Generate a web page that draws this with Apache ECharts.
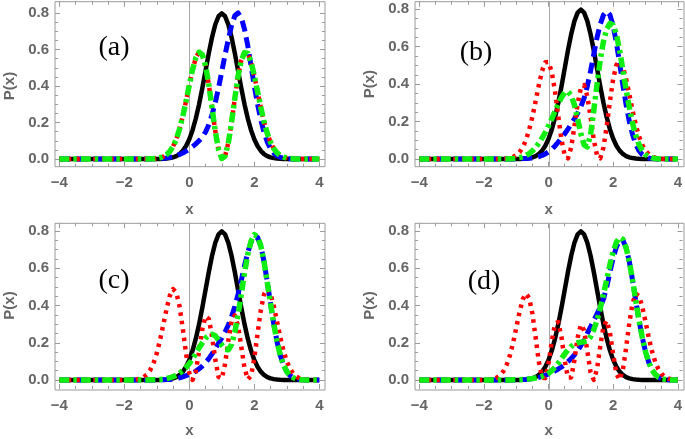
<!DOCTYPE html>
<html><head><meta charset="utf-8">
<script src="https://cdn.jsdelivr.net/npm/echarts@6/dist/echarts.min.js"></script>
<style>html,body{margin:0;padding:0;background:#fff}#c{width:685px;height:439px}</style>
</head><body><div id="c"></div>
<script>
// sample positions (x)
const X = [-4, -3,
  -2.0, -1.9, -1.8, -1.7, -1.6, -1.5, -1.4, -1.3,
  -1.2, -1.1, -1.0, -0.9, -0.8, -0.7, -0.6, -0.5, -0.4, -0.3,
  -0.2, -0.1, 0, 0.1, 0.2, 0.3, 0.4, 0.5, 0.6, 0.7,
  0.8, 0.9, 1.0, 1.1, 1.2, 1.3, 1.4, 1.5, 1.6, 1.7,
  1.8, 1.9, 2.0, 2.1, 2.2, 2.3, 2.4, 2.5, 2.6, 2.7,
  2.8, 2.9, 3.0, 3.1, 3.2, 3.3, 3.4, 3.5, 3.6, 3.7,
  3.8, 3.9, 4];

// black solid curve (same in every panel)
const blackP = [0,0,0,0,0,0,0,0,0,0,
  0,0.0001,0.0003,0.0006,0.0012,0.0025,0.0048,0.0089,0.0158,0.027,
  0.0448,0.0709,0.108,0.158,0.222,0.299,0.388,0.484,0.58,0.667,
  0.737,0.782,0.798,0.782,0.737,0.667,0.58,0.484,0.388,0.299,
  0.222,0.158,0.108,0.0709,0.0448,0.027,0.0158,0.0089,0.0048,0.0025,
  0.0012,0.0006,0.0003,0.0001,0,0,0,0,0,0,
  0,0,0];

// panel (a)
const blueA = [0,0,0,0,0,0,0,0,0,0,
  0,0.001,0.001,0.002,0.004,0.006,0.009,0.013,0.018,0.025,
  0.033,0.043,0.055,0.068,0.083,0.1,0.12,0.148,0.188,0.242,
  0.31,0.39,0.48,0.57,0.655,0.73,0.785,0.8,0.775,0.71,
  0.62,0.51,0.4,0.3,0.215,0.145,0.093,0.057,0.033,0.018,
  0.009,0.0045,0.002,0.001,0,0,0,0,0,0,
  0,0,0];
const redA = [0,0,0,0,0,0,0,0,0,0,
  0.0008,0.0017,0.0035,0.0069,0.0132,0.024,0.0417,0.0692,0.109,0.164,
  0.234,0.317,0.405,0.489,0.554,0.586,0.572,0.511,0.408,0.279,
  0.152,0.052,0.003,0.0155,0.087,0.201,0.332,0.453,0.541,0.583,
  0.578,0.531,0.457,0.37,0.283,0.204,0.14,0.0915,0.0568,0.0336,
  0.019,0.0102,0.0053,0.0026,0.0012,0.0005,0,0,0,0,
  0,0,0];
const greenA = [0,0,0,0,0,0,0,0,0,0,
  0.0008,0.0017,0.0035,0.0069,0.0132,0.024,0.0417,0.0692,0.109,0.164,
  0.234,0.317,0.405,0.489,0.554,0.586,0.572,0.511,0.408,0.279,
  0.152,0.052,0.003,0.0155,0.087,0.201,0.332,0.453,0.541,0.583,
  0.578,0.531,0.457,0.37,0.283,0.204,0.14,0.0915,0.0568,0.0336,
  0.019,0.0102,0.0053,0.0026,0.0012,0.0005,0,0,0,0,
  0,0,0];

// panel (b)
const blueB = [0,0,0,0,0,0,0,0,0,0,
  0,0,0.001,0.001,0.002,0.003,0.004,0.006,0.009,0.013,
  0.019,0.027,0.038,0.052,0.07,0.09,0.112,0.135,0.16,0.187,
  0.215,0.245,0.28,0.325,0.39,0.47,0.56,0.65,0.72,0.77,
  0.79,0.77,0.71,0.62,0.51,0.395,0.29,0.2,0.13,0.078,
  0.044,0.023,0.011,0.005,0.002,0.001,0,0,0,0,
  0,0,0];
const redB = [0,0,0,0,0,0,0,0.0005,0.0011,0.0025,
  0.0051,0.0103,0.0197,0.0358,0.0618,0.101,0.156,0.226,0.309,0.396,
  0.471,0.517,0.518,0.464,0.361,0.229,0.103,0.019,0.0035,0.062,
  0.173,0.295,0.38,0.395,0.335,0.223,0.102,0.019,0.0035,0.062,
  0.176,0.31,0.428,0.503,0.524,0.494,0.428,0.345,0.259,0.182,
  0.121,0.0755,0.0448,0.0252,0.0135,0.0068,0.0033,0.0015,0.0006,0.0002,
  0,0,0];
const greenB = [0,0,0,0,0,0,0,0,0,0,
  0.001,0.002,0.004,0.007,0.012,0.019,0.029,0.043,0.062,0.085,
  0.112,0.143,0.178,0.215,0.255,0.295,0.33,0.355,0.36,0.34,
  0.29,0.215,0.135,0.075,0.065,0.13,0.26,0.4,0.53,0.63,
  0.695,0.725,0.715,0.665,0.58,0.475,0.37,0.275,0.19,0.125,
  0.077,0.045,0.024,0.012,0.006,0.003,0.001,0,0,0,
  0,0,0];

// panel (c)
const blueC = [0,0,0,0,0,0,0,0,0,0,
  0,0,0,0.001,0.001,0.002,0.003,0.005,0.008,0.012,
  0.017,0.023,0.03,0.038,0.048,0.06,0.075,0.093,0.115,0.14,
  0.168,0.197,0.226,0.258,0.295,0.34,0.395,0.46,0.535,0.615,
  0.685,0.74,0.77,0.765,0.72,0.635,0.525,0.41,0.3,0.205,
  0.132,0.08,0.045,0.024,0.012,0.006,0.003,0.001,0,0,
  0,0,0];
const redC = [0,0,0,0.0003,0.0007,0.0017,0.0038,0.008,0.016,0.03,
  0.054,0.091,0.144,0.214,0.297,0.381,0.452,0.488,0.471,0.396,
  0.275,0.141,0.037,0.0002,0.046,0.153,0.272,0.342,0.328,0.234,
  0.109,0.017,0.008,0.086,0.21,0.314,0.347,0.291,0.178,0.064,
  0.003,0.023,0.116,0.248,0.375,0.461,0.489,0.462,0.397,0.314,
  0.229,0.157,0.1,0.06,0.034,0.018,0.009,0.0044,0.002,0.0009,
  0.0004,0.0001,0];
const greenC = [0,0,0,0,0,0,0,0,0,0,
  0.001,0.001,0.002,0.003,0.005,0.008,0.012,0.018,0.026,0.037,
  0.05,0.067,0.088,0.113,0.142,0.172,0.2,0.225,0.24,0.245,
  0.237,0.215,0.188,0.165,0.162,0.19,0.255,0.35,0.46,0.575,
  0.675,0.745,0.78,0.77,0.72,0.635,0.525,0.41,0.3,0.205,
  0.132,0.08,0.045,0.024,0.012,0.006,0.003,0.001,0,0,
  0,0,0];

// panel (d)
const blueD = [0,0,0,0,0,0,0,0,0,0,
  0,0,0.001,0.001,0.002,0.003,0.005,0.007,0.01,0.014,
  0.019,0.025,0.032,0.04,0.049,0.059,0.07,0.083,0.098,0.115,
  0.135,0.158,0.185,0.215,0.25,0.285,0.32,0.355,0.39,0.435,
  0.5,0.58,0.655,0.715,0.75,0.75,0.71,0.635,0.535,0.425,
  0.32,0.228,0.152,0.095,0.055,0.03,0.015,0.007,0.003,0.001,
  0,0,0];
const redD = [0,0,0.0005,0.0012,0.0028,0.0061,0.0127,0.0249,0.0461,0.0802,
  0.13,0.197,0.28,0.363,0.433,0.464,0.44,0.355,0.228,0.097,
  0.0126,0.01,0.0896,0.209,0.302,0.311,0.23,0.104,0.0127,0.0137,
  0.106,0.228,0.297,0.266,0.156,0.042,0.0004,0.059,0.181,0.288,
  0.318,0.253,0.136,0.033,0.0007,0.055,0.173,0.308,0.413,0.463,
  0.451,0.394,0.313,0.229,0.155,0.0975,0.0578,0.0321,0.0167,0.0083,
  0.0038,0.0017,0.0007];
const greenD = [0,0,0,0,0,0,0,0,0,0,
  0,0.001,0.001,0.002,0.003,0.004,0.006,0.008,0.011,0.015,
  0.02,0.027,0.036,0.05,0.068,0.09,0.115,0.14,0.162,0.18,
  0.193,0.2,0.203,0.205,0.212,0.232,0.27,0.32,0.385,0.46,
  0.54,0.62,0.69,0.74,0.765,0.755,0.71,0.635,0.535,0.425,
  0.32,0.228,0.152,0.095,0.055,0.03,0.015,0.007,0.003,0.001,
  0,0,0];

const panelLabels = ['(a)', '(b)', '(c)', '(d)'];
const xTickStep = 2, yTickStep = 0.2;

const panelCurves = [
  [blackP, blueA, redA, greenA],
  [blackP, blueB, redB, greenB],
  [blackP, blueC, redC, greenC],
  [blackP, blueD, redD, greenD]
];

// layout (pixels)
const layout = [
  {inner:{left:59.3, top:13, width:260, height:146}, frame:{left:55, top:1.7, width:270, height:165}, off:{b:7.7,t:11.3,l:4.3,r:5.7}, lab:[114,48], nameGapX:36},
  {inner:{left:419.3, top:9.3, width:260, height:149.7}, frame:{left:415, top:1.7, width:269, height:165}, off:{b:7.7,t:7.6,l:4.3,r:4.7}, lab:[476,53], nameGapX:36},
  {inner:{left:59.3, top:231, width:260, height:150}, frame:{left:55, top:223.3, width:270, height:166.7}, off:{b:9,t:7.7,l:4.3,r:5.7}, lab:[114,281], nameGapX:34},
  {inner:{left:419.3, top:231, width:260, height:150}, frame:{left:415, top:223.3, width:269, height:166.7}, off:{b:9,t:7.7,l:4.3,r:4.7}, lab:[484,282], nameGapX:34}
];

const gray = '#9a9a9a', labGray = '#666666';
const font = '"Liberation Sans", Arial, sans-serif';
const styles = [
  {color:'#000000', width:4.5, type:'solid'},
  {color:'#0000ff', width:5, type:[11,6]},
  {color:'#ff0000', width:4.5, type:[3.5,5]},
  {color:'#11ee11', width:5.5, type:[10,4,3.5,4]}
];

const grids = [], xAxes = [], yAxes = [], series = [], graphics = [];
layout.forEach((L, p) => {
  grids.push(Object.assign({show:false}, L.inner));
  grids.push(Object.assign({show:true, borderColor:gray, borderWidth:1, backgroundColor:'transparent'}, L.frame));
  const gi = 2*p, gf = 2*p+1;
  const tick = {show:true, inside:true, length:5, lineStyle:{color:gray, width:1}};
  const minor = {show:true, splitNumber:4, length:3, lineStyle:{color:gray, width:1}};
  xAxes.push({gridIndex:gi, type:'value', position:'bottom', min:-4, max:4, interval:xTickStep, offset:L.off.b,
    axisLine:{show:false, onZero:false}, axisTick:tick, minorTick:minor, splitLine:{show:false},
    axisLabel:{show:true, margin:9, color:labGray, fontWeight:'bold', fontSize:15, fontFamily:font,
      formatter: v => (v < 0 ? '\u2212' : '') + Math.abs(v)},
    name:'x', nameLocation:'middle', nameGap:L.nameGapX,
    nameTextStyle:{color:labGray, fontWeight:'bold', fontSize:15, fontFamily:font}});
  xAxes.push({gridIndex:gi, type:'value', position:'top', min:-4, max:4, interval:xTickStep, offset:L.off.t,
    axisLine:{show:false, onZero:false}, axisTick:tick, minorTick:minor, splitLine:{show:false}, axisLabel:{show:false}});
  const fxMin = -4 - L.off.l / (L.inner.width/8), fxMax = 4 + L.off.r / (L.inner.width/8);
  xAxes.push({gridIndex:gf, type:'value', min:fxMin, max:fxMax, show:false, axisLine:{onZero:false}});
  yAxes.push({gridIndex:gi, type:'value', position:'left', min:0, max:0.8, interval:yTickStep, offset:L.off.l,
    axisLine:{show:false, onZero:false}, axisTick:tick, minorTick:minor, splitLine:{show:false},
    axisLabel:{show:true, margin:6, color:labGray, fontWeight:'bold', fontSize:15, fontFamily:font,
      formatter: v => v.toFixed(1)},
    name:'P(x)', nameLocation:'middle', nameGap:38,
    nameTextStyle:{color:labGray, fontWeight:'bold', fontSize:15, fontFamily:font}});
  yAxes.push({gridIndex:gi, type:'value', position:'right', min:0, max:0.8, interval:yTickStep, offset:L.off.r,
    axisLine:{show:false, onZero:false}, axisTick:tick, minorTick:minor, splitLine:{show:false}, axisLabel:{show:false}});
  yAxes.push({gridIndex:gf, type:'value', min:0.1, max:1,
    axisLine:{show:true, onZero:true, lineStyle:{color:'#aaaaaa', width:1}},
    axisTick:{show:false}, axisLabel:{show:false}, splitLine:{show:false}});

  panelCurves[p].forEach((arr, k) => {
    series.push({type:'line', xAxisIndex:3*p, yAxisIndex:3*p, data:X.map((x, i) => [x, arr[i]]),
      showSymbol:false, symbol:'none', clip:false, silent:true, z:2+k,
      lineStyle:Object.assign({cap:'butt', join:'round'}, styles[k])});
  });

  graphics.push({type:'text', x:L.lab[0], y:L.lab[1], z:10,
    style:{text:panelLabels[p], font:'28px "Liberation Serif", "Times New Roman", serif', fill:'#000',
      textAlign:'center', textVerticalAlign:'middle'}});
});

const chart = echarts.init(document.getElementById('c'), null, {renderer:'canvas'});
chart.setOption({animation:false, backgroundColor:'#ffffff', grid:grids, xAxis:xAxes, yAxis:yAxes, series:series, graphic:graphics});
</script>
</body></html>
